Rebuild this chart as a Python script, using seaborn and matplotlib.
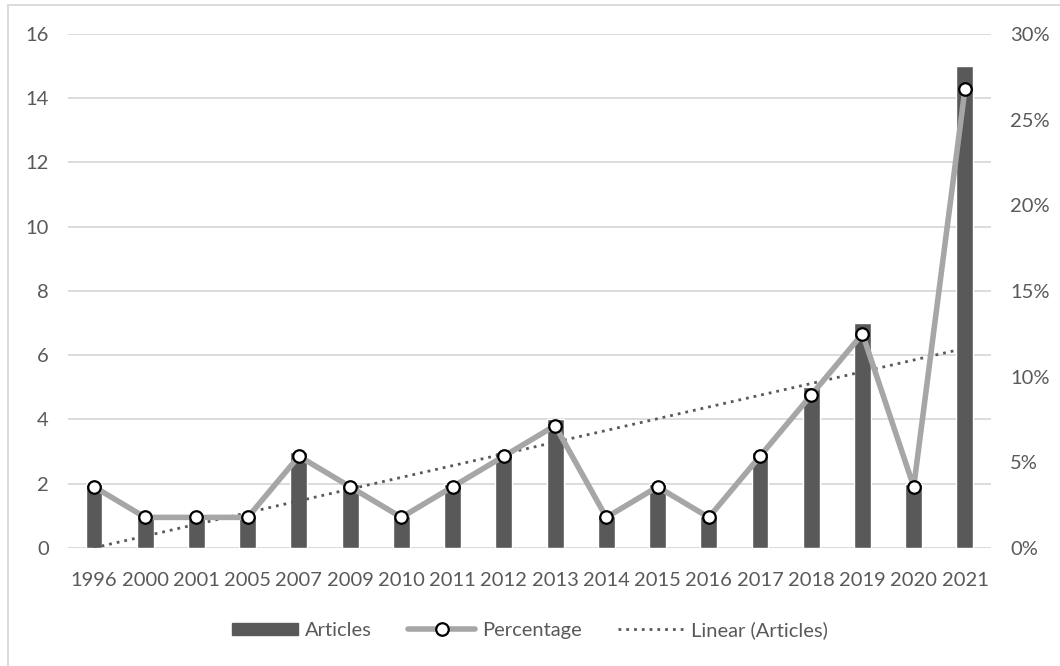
import numpy as np
import pandas as pd
import matplotlib
matplotlib.use("Agg")
import matplotlib.pyplot as plt
import seaborn as sns
from matplotlib.ticker import FuncFormatter
from matplotlib.lines import Line2D

years = ["1996", "2000", "2001", "2005", "2007", "2009", "2010", "2011", "2012",
         "2013", "2014", "2015", "2016", "2017", "2018", "2019", "2020", "2021"]
articles = [2, 1, 1, 1, 3, 2, 1, 2, 3, 4, 1, 2, 1, 3, 5, 7, 2, 15]

df = pd.DataFrame({"year": years, "articles": articles})
df["percentage"] = df["articles"] / df["articles"].sum() * 100

sns.set_theme(style="white")
plt.rcParams["font.family"] = ["Lato", "DejaVu Sans"]

text_col = "#595959"
bar_col = "#595959"
line_col = "#A6A6A6"
grid_col = "#D9D9D9"
fs = 14.5

fig = plt.figure(figsize=(10.6, 6.66), dpi=100)
ax = fig.add_axes([0.0645, 0.1772, 0.870, 0.7718])

sns.barplot(data=df, x="year", y="articles", color=bar_col, width=0.33,
            saturation=1, ax=ax, zorder=2)

# linear trend (Excel style, x = category index)
pos = np.arange(len(years))
slope, intercept = np.polyfit(pos, df["articles"], 1)
ax.plot(pos, slope * pos + intercept, ls=(0, (1, 1.8)), color=text_col, lw=2, zorder=4)

ax.set_ylim(0, 16)
ax.set_yticks(range(0, 17, 2))
ax.set_xlim(-0.5, len(years) - 0.5)
ax.yaxis.grid(True, color=grid_col, lw=1.3)
ax.set_axisbelow(True)
ax.set_xlabel("")
ax.set_ylabel("")
for s in ax.spines.values():
    s.set_visible(False)
ax.axhline(0, color=grid_col, lw=1.3, zorder=1)
ax.tick_params(axis="both", colors=text_col, labelsize=fs, length=0)
ax.tick_params(axis="y", pad=14)
ax.tick_params(axis="x", pad=17)

ax2 = ax.twinx()
ax2.plot(pos, df["percentage"], color=line_col, lw=4, marker="o", ms=9,
         mfc="white", mec="black", mew=1.6, zorder=5)
ax2.set_ylim(0, 30)
ax2.set_yticks(range(0, 31, 5))
ax2.yaxis.set_major_formatter(FuncFormatter(lambda v, p: f"{v:.0f}%"))
ax2.tick_params(axis="y", colors=text_col, labelsize=fs, length=0, pad=14)
ax2.grid(False)
for s in ax2.spines.values():
    s.set_visible(False)

handles = [
    plt.Rectangle((0, 0), 1, 1, color=bar_col),
    Line2D([0], [0], color=line_col, lw=4, marker="o", ms=9, mfc="white",
           mec="black", mew=1.6),
    Line2D([0], [0], color=text_col, lw=2, ls=(0, (1, 1.8))),
]
labels = ["Articles", "Percentage", "Linear (Articles)"]
leg = fig.legend(handles, labels, loc="center", bbox_to_anchor=(0.5, 0.054),
                 ncol=3, frameon=False, fontsize=fs, handlelength=3.3,
                 handleheight=0.55, columnspacing=1.8, handletextpad=0.35)
for t in leg.get_texts():
    t.set_color(text_col)

# chart area border (left and top visible)
fig.add_artist(Line2D([0.0075, 0.0075], [0, 0.992], color=grid_col, lw=1.3))
fig.add_artist(Line2D([0.0075, 1], [0.992, 0.992], color=grid_col, lw=1.3))

fig.savefig("out.png", dpi=100)
